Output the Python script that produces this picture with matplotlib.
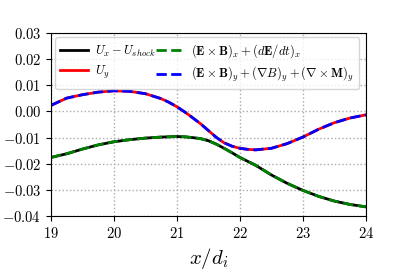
import numpy as np
import matplotlib
matplotlib.use('Agg')
from matplotlib import pyplot as plt

plt.rcParams['font.family'] = 'serif'
plt.rcParams['font.serif'] = ['cmr10']
plt.rcParams['mathtext.fontset'] = 'cm'
plt.rcParams['axes.formatter.use_mathtext'] = True

# values
x = [19.0, 19.25, 19.5, 19.75, 20.0, 20.25, 20.5, 20.75, 20.875, 21.0, 21.125,
     21.25, 21.375, 21.5, 21.625, 21.75, 21.875, 22.0, 22.125, 22.25, 22.5,
     22.75, 23.0, 23.25, 23.5, 23.75, 24.0]
ux = [-0.0176, -0.0162, -0.0144, -0.0128, -0.0116, -0.0108, -0.0102, -0.0098,
      -0.0097, -0.0096, -0.0097, -0.0100, -0.0104, -0.0112, -0.0125, -0.0141,
      -0.0158, -0.0176, -0.0191, -0.0206, -0.0243, -0.0275, -0.0302, -0.0325,
      -0.0343, -0.0356, -0.0365]
uy = [0.0023, 0.0051, 0.0064, 0.0074, 0.0079, 0.0077, 0.0068, 0.0049, 0.0035,
      0.0018, -0.0002, -0.0024, -0.0047, -0.0073, -0.0099, -0.0120, -0.0133,
      -0.0141, -0.0145, -0.0147, -0.0141, -0.0123, -0.0098, -0.0068, -0.0043,
      -0.0025, -0.0013]

fig = plt.figure(figsize=(4.07, 2.71), dpi=100)
ax = fig.add_axes([0.125, 0.203, 0.774, 0.675])

ax.plot(x, ux, color='k', lw=2, label=r'$U_x-U_{shock}$')
ax.plot(x, uy, color='r', lw=2, label=r'$U_y$')
ax.plot(x, ux, color='g', lw=2, ls='--', label=r'$(\mathbf{E}\times\mathbf{B})_x+(d\mathbf{E}/dt)_x$')
ax.plot(x, uy, color='b', lw=2, ls='--',
        label=r'$(\mathbf{E}\times\mathbf{B})_y+(\nabla B)_y+(\nabla\times\mathbf{M})_y$')

ax.set_xlim(19, 24)
ax.set_ylim(-0.04, 0.03)
ax.set_xticks([19, 20, 21, 22, 23, 24])
ax.set_yticks([-0.04, -0.03, -0.02, -0.01, 0.0, 0.01, 0.02, 0.03])
ax.set_yticklabels([r'$-0.04$', r'$-0.03$', r'$-0.02$', r'$-0.01$', r'$0.00$', r'$0.01$', r'$0.02$', r'$0.03$'])
ax.set_xticklabels([r'$19$', r'$20$', r'$21$', r'$22$', r'$23$', r'$24$'])
ax.tick_params(labelsize=10.5, direction='out', length=3.5)
ax.grid(True, ls=':', color='#aaaaaa', lw=1)
ax.set_xlabel(r'$x/d_i$', fontsize=15)
ax.legend(loc='upper left', ncol=2, fontsize=9.0, columnspacing=0.05,
          handlelength=2.2, handletextpad=0.6, borderaxespad=0.35,
          labelspacing=0.4)

plt.savefig('out.png', dpi=100)
